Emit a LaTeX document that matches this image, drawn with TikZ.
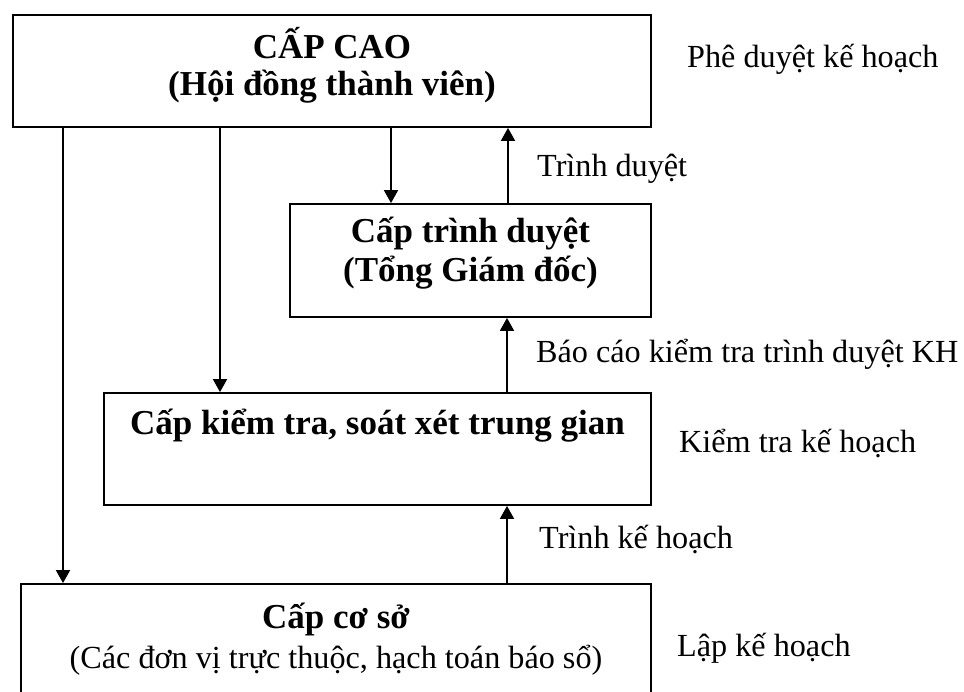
\documentclass[tikz,border=0pt]{standalone}
\usepackage{fontspec}
\setmainfont{Liberation Serif}
\usetikzlibrary{arrows.meta}
\begin{document}
\begin{tikzpicture}[x=1pt,y=-1pt,
  box/.style={draw, line width=1.8pt, rectangle, inner sep=0pt},
  head/.style={font=\fontsize{35}{38}\selectfont\bfseries, anchor=base, inner sep=0pt},
  body/.style={font=\fontsize{32.2}{37}\selectfont, anchor=base, inner sep=0pt},
  note/.style={font=\fontsize{32.2}{37}\selectfont, anchor=base west, inner sep=0pt},
  arr/.style={line width=1.8pt, -{Triangle[length=13pt,width=14pt]}}]
\useasboundingbox (0,0) rectangle (964,692);

% the four levels
\node[box, minimum width=638pt, minimum height=112pt] (top) at (332,71) {};
\node[box, minimum width=361pt, minimum height=113pt] (tr)  at (470.5,260.5) {};
\node[box, minimum width=547pt, minimum height=112pt] (mid) at (377.5,449) {};
\node[box, minimum width=630pt, minimum height=116pt] (bot) at (336,642) {};

% texts inside the boxes
\node[head] (t1) at (332,59) {CẤP CAO};
\node[head] (t2) at (332,96) {(Hội đồng thành viên)};
\node[head] (r1) at (470.5,243) {Cấp trình duyệt};
\node[head] (r2) at (470.5,282) {(Tổng Giám đốc)};
\node[head] (m1) at (377.5,435) {Cấp kiểm tra, soát xét trung gian};
\node[head] (b1) at (336,628) {Cấp cơ sở};
\node[body] (b2) at (336,668) {(Các đơn vị trực thuộc, hạch toán báo sổ)};

% side notes
\node[note] (n1) at (687,68)  {Phê duyệt kế hoạch};
\node[note] (n2) at (537,177) {Trình duyệt};
\node[note] (n3) at (536,363) {Báo cáo kiểm tra trình duyệt KH};
\node[note] (n4) at (679,453) {Kiểm tra kế hoạch};
\node[note] (n5) at (539,548) {Trình kế hoạch};
\node[note] (n6) at (677,656) {Lập kế hoạch};

% columns of the connectors
\coordinate (c1) at (63,0);
\coordinate (c2) at (220,0);
\coordinate (c3) at (391,0);
\coordinate (c4) at (508,0);
\coordinate (c5) at (507,0);

% downward directives
\draw[arr] (top.south -| c1) -- (bot.north -| c1);
\draw[arr] (top.south -| c2) -- (mid.north -| c2);
\draw[arr] (top.south -| c3) -- (tr.north -| c3);
% upward submissions
\draw[arr] (tr.north -| c4) -- (top.south -| c4);
\draw[arr] (mid.north -| c5) -- (tr.south -| c5);
\draw[arr] (bot.north -| c5) -- (mid.south -| c5);
\end{tikzpicture}
\end{document}
